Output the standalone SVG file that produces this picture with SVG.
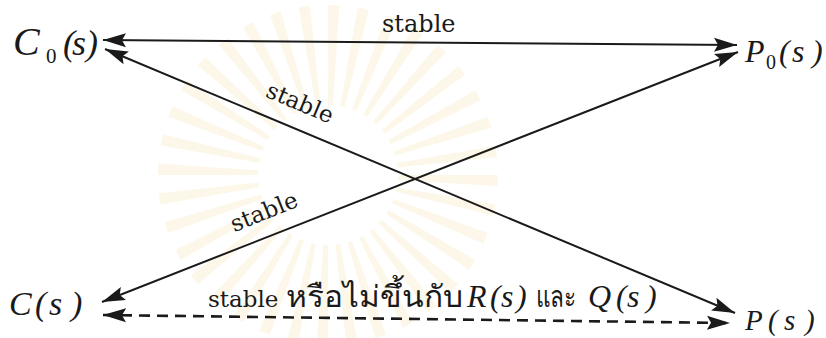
<svg xmlns="http://www.w3.org/2000/svg" width="826" height="338" viewBox="0 0 826 338">
  <defs>
    <marker id="ah" markerUnits="userSpaceOnUse" markerWidth="26" markerHeight="18" refX="23" refY="8" orient="auto-start-reverse" viewBox="0 0 26 18">
      <path d="M0,1 L23,8 L0,15 L4,8 Z" fill="#1a1a1a" stroke="none"/>
    </marker>
  </defs>
  <rect width="826" height="338" fill="#ffffff"/>
  <g id="watermark" opacity="0.22">
    <circle cx="328" cy="175" r="120" fill="none" stroke="#f0d99a" stroke-width="100" stroke-dasharray="8 12.94"/>
  </g>
  <g id="connectors" stroke="#1a1a1a" stroke-width="2" fill="none" marker-start="url(#ah)" marker-end="url(#ah)">
    <line x1="103" y1="40" x2="737" y2="45"/>
    <line x1="105" y1="49" x2="735" y2="313"/>
    <line x1="102" y1="302" x2="738" y2="52"/>
    <line x1="103" y1="315" x2="730" y2="323" stroke-width="2.6" stroke-dasharray="11 7"/>
  </g>
  <text font-family="DejaVu Serif" font-size="24" fill="#1a1a1a" x="382" y="32">stable</text>
  <text font-family="DejaVu Serif" font-size="23" fill="#1a1a1a" x="0" y="0" text-anchor="middle" transform="translate(297,110) rotate(23)">stable</text>
  <text font-family="DejaVu Serif" font-size="23" fill="#1a1a1a" x="0" y="0" text-anchor="middle" transform="translate(267,219) rotate(-22)">stable</text>
  <text font-family="DejaVu Serif" font-size="23" fill="#1a1a1a" x="208" y="307">stable</text>
  <text font-family="Liberation Serif" font-size="30" fill="#1a1a1a" x="286" y="307" textLength="177" lengthAdjust="spacingAndGlyphs">หรือไม่ขึ้นกับ</text>
  <text font-family="Liberation Serif" font-style="italic" font-size="32" fill="#1a1a1a" y="307"><tspan x="467">R</tspan><tspan x="490">(</tspan><tspan x="501">s</tspan><tspan x="516">)</tspan></text>
  <text font-family="Liberation Serif" font-size="30" fill="#1a1a1a" x="536" y="307" textLength="40" lengthAdjust="spacingAndGlyphs">และ</text>
  <text font-family="Liberation Serif" font-style="italic" font-size="32" fill="#1a1a1a" y="307"><tspan x="588">Q</tspan><tspan x="616">(</tspan><tspan x="627">s</tspan><tspan x="646">)</tspan></text>
  <g id="node-C0" fill="#1a1a1a">
    <text font-family="Liberation Serif" font-style="italic" font-size="40" x="13" y="55">C</text>
    <text font-family="Liberation Serif" font-size="21" x="46" y="63">0</text>
    <text font-family="Liberation Serif" font-style="italic" font-size="36" y="55"><tspan x="63">(</tspan><tspan x="72">s</tspan><tspan x="86">)</tspan></text>
  </g>
  <g id="node-P0" fill="#1a1a1a">
    <text font-family="Liberation Serif" font-style="italic" font-size="32" x="745" y="62">P</text>
    <text font-family="Liberation Serif" font-size="20" x="766" y="69">0</text>
    <text font-family="Liberation Serif" font-style="italic" font-size="32" y="62"><tspan x="779">(</tspan><tspan x="792">s</tspan><tspan x="812">)</tspan></text>
  </g>
  <g id="node-C" fill="#1a1a1a">
    <text font-family="Liberation Serif" font-style="italic" font-size="34" x="9" y="315">C</text>
    <text font-family="Liberation Serif" font-style="italic" font-size="34" y="315"><tspan x="35">(</tspan><tspan x="49">s</tspan><tspan x="71">)</tspan></text>
  </g>
  <g id="node-P" fill="#1a1a1a">
    <text font-family="Liberation Serif" font-style="italic" font-size="29" y="330"><tspan x="745">P</tspan><tspan x="768">(</tspan><tspan x="784">s</tspan><tspan x="805">)</tspan></text>
  </g>
</svg>
